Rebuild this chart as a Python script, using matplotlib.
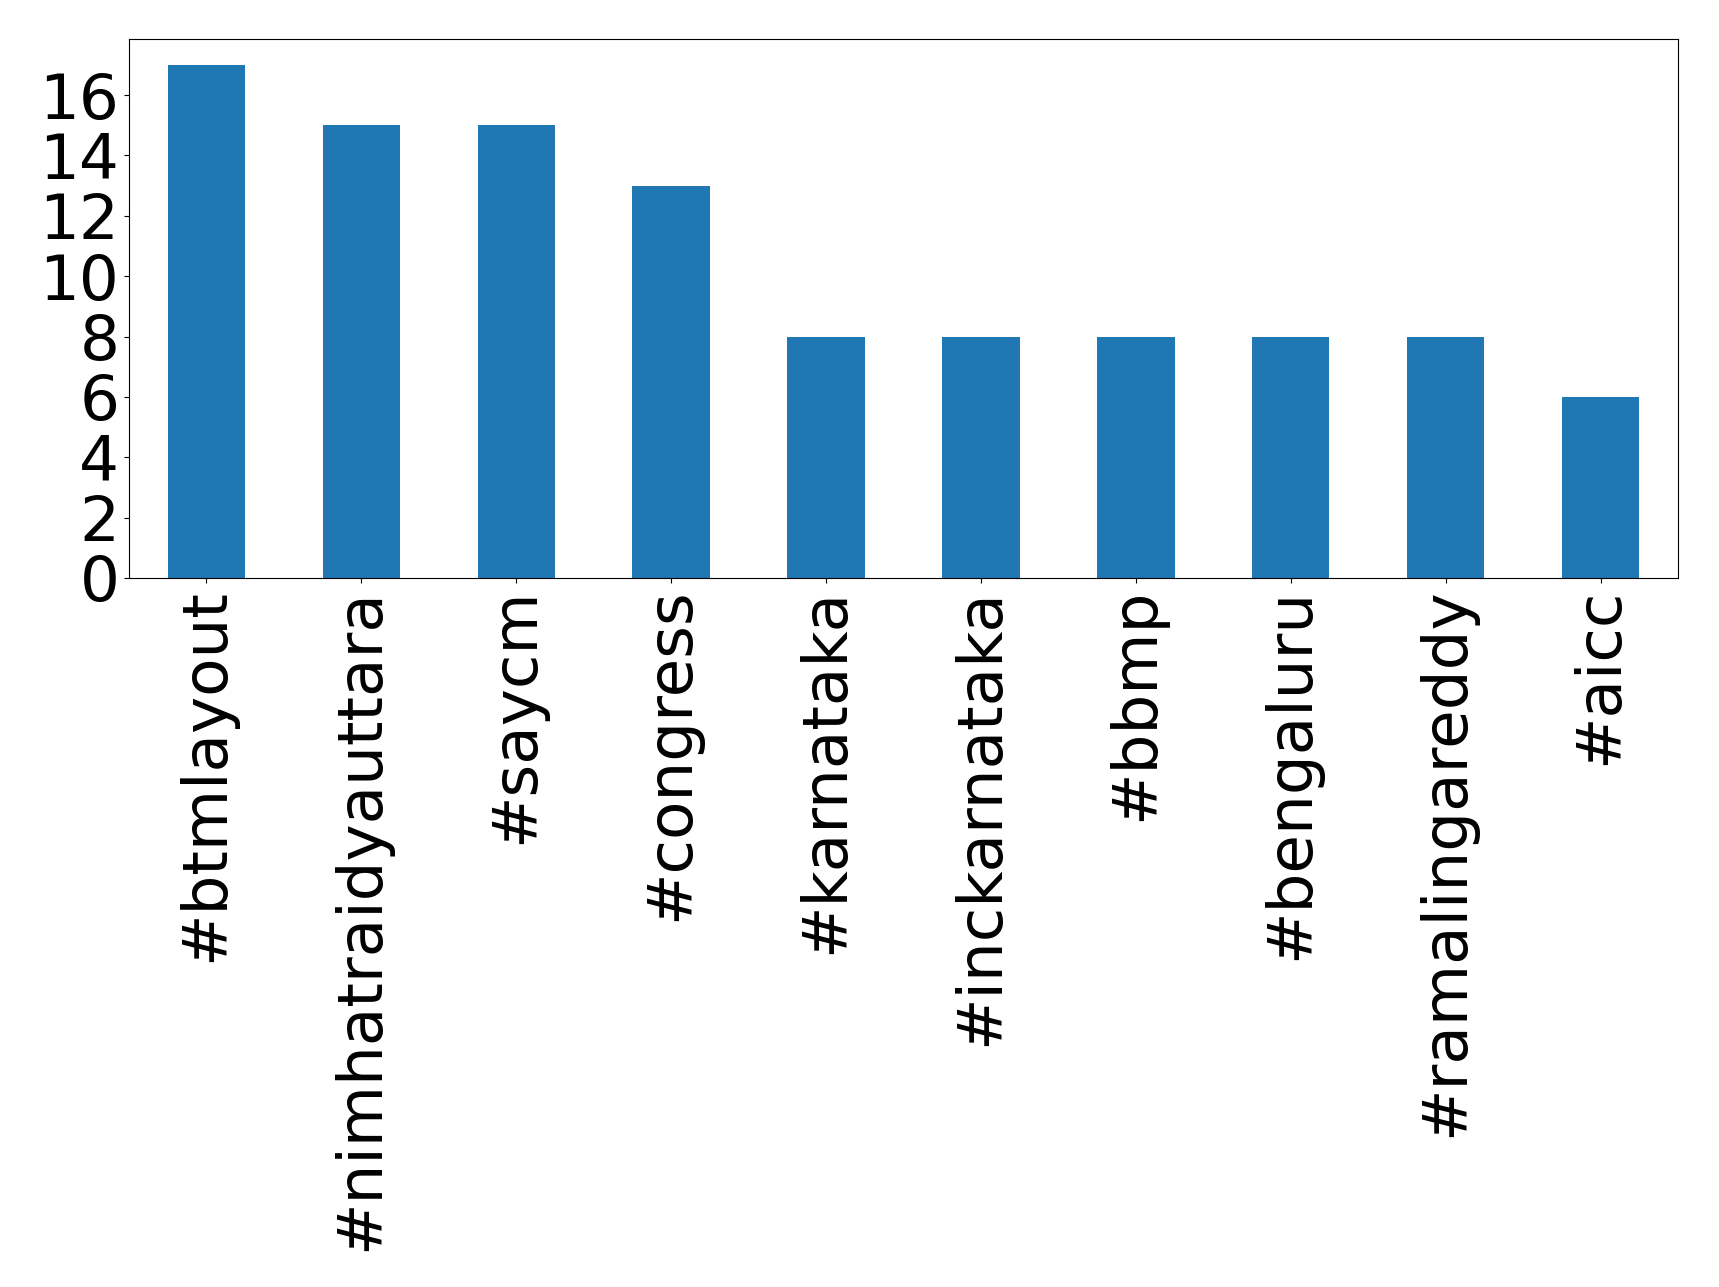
import matplotlib
matplotlib.use("Agg")
import matplotlib.pyplot as plt
import pandas as pd

categories = ["#btmlayout", "#nimhatraidyauttara", "#saycm", "#congress", "#karnataka",
              "#inckarnataka", "#bbmp", "#bengaluru", "#ramalingareddy", "#aicc"]
counts = [17, 15, 15, 13, 8, 8, 8, 8, 8, 6]

W, H = 1719, 1287
fig = plt.figure(figsize=(W / 100, H / 100), dpi=100)
ax = fig.add_axes([129 / W, 1 - 578 / H, (1678 - 129) / W, (578 - 39.3) / H])
s = pd.Series(counts, index=categories)
s.plot(kind="bar", ax=ax, color="#1f77b4", fontsize=45.2)
ax.set_yticks(range(0, 17, 2))
fig.savefig("out.png", dpi=100)
